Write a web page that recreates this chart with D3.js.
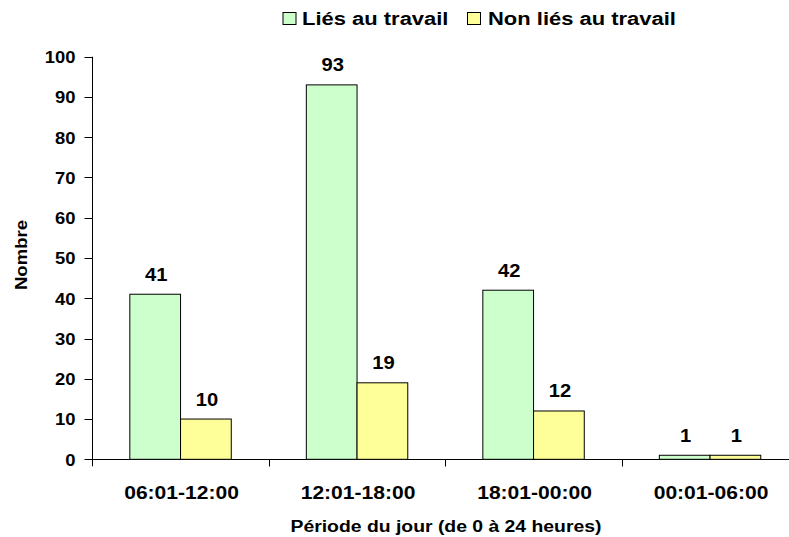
<!DOCTYPE html>
<html>
<head>
<meta charset="utf-8">
<script src="https://cdn.jsdelivr.net/npm/d3@7"></script>
<style>
  html, body { margin: 0; padding: 0; background: #fff; }
  svg { display: block; }
  text { font-family: "Liberation Sans", Arial, sans-serif; font-weight: bold; fill: #000; }
</style>
</head>
<body>
<script>
const categories = ["06:01-12:00", "12:01-18:00", "18:01-00:00", "00:01-06:00"];
const seriesNames = ["Liés au travail", "Non liés au travail"];
const workValues = [41, 93, 42, 1];
const nonWorkValues = [10, 19, 12, 1];
const yTicks = [0, 10, 20, 30, 40, 50, 60, 70, 80, 90, 100];
const xTitle = "Période du jour (de 0 à 24 heures)";
const yTitle = "Nombre";
const colors = ["#CCFFCC", "#FFFF99"];

const W = 789, H = 537;
const svg = d3.select("body").append("svg").attr("width", W).attr("height", H);

function stretch(sel, f) {
  sel.each(function () {
    const n = this.getComputedTextLength();
    d3.select(this).attr("textLength", n * f).attr("lengthAdjust", "spacingAndGlyphs");
  });
}

const x0 = d3.scaleBand().domain(categories).range([92.3, 798.3]).paddingInner(0).paddingOuter(0);
const x1 = d3.scaleBand().domain(seriesNames).range([0, x0.bandwidth()]).paddingInner(0).paddingOuter(0.74);
const y = d3.scaleLinear().domain([0, 100]).range([459.3, 56.7]);

const data = categories.map((c, i) => ({ cat: c, vals: [workValues[i], nonWorkValues[i]] }));

// y axis
const yAxis = svg.append("g").attr("transform", "translate(92.5,0)");
yAxis.append("line").attr("x1", 0).attr("x2", 0).attr("y1", y(100)).attr("y2", y(0) + 7)
  .attr("stroke", "#000").attr("stroke-width", 1);
yAxis.selectAll("line.tick").data(yTicks).join("line").attr("class", "tick")
  .attr("x1", -8).attr("x2", 0).attr("y1", d => Math.round(y(d)) + 0.5).attr("y2", d => Math.round(y(d)) + 0.5)
  .attr("stroke", "#000");
const yl = yAxis.selectAll("text").data(yTicks).join("text")
  .attr("x", -17).attr("y", d => y(d) + 6.3).attr("text-anchor", "end")
  .style("font-size", "16px").text(d => d);
stretch(yl, 1.15);

// x axis
const xAxis = svg.append("g");
xAxis.append("line").attr("x1", 92.3).attr("x2", 798.3).attr("y1", 459.5).attr("y2", 459.5)
  .attr("stroke", "#000");
const bounds = categories.map(c => x0(c)).concat([x0.range()[1]]).slice(1);
xAxis.selectAll("line.tick").data(bounds).join("line").attr("class", "tick")
  .attr("x1", d => Math.round(d) + 0.5).attr("x2", d => Math.round(d) + 0.5)
  .attr("y1", 459.5).attr("y2", 466.5).attr("stroke", "#000");
const xl = xAxis.selectAll("text").data(categories).join("text")
  .attr("x", d => x0(d) + x0.bandwidth() / 2 + 1).attr("y", 499)
  .attr("text-anchor", "middle").style("font-size", "18px").text(d => d);
stretch(xl, 1.17);

// bars
const groups = svg.selectAll("g.grp").data(data).join("g").attr("class", "grp")
  .attr("transform", d => `translate(${x0(d.cat)},0)`);
groups.selectAll("rect").data(d => d.vals.map((v, i) => ({ v, s: seriesNames[i], i })))
  .join("rect")
  .attr("x", d => x1(d.s)).attr("width", x1.bandwidth())
  .attr("y", d => y(d.v)).attr("height", d => y(0) - y(d.v))
  .attr("fill", d => colors[d.i]).attr("stroke", "#000").attr("stroke-width", 1);
const vl = groups.selectAll("text").data(d => d.vals.map((v, i) => ({ v, s: seriesNames[i], i })))
  .join("text")
  .attr("x", d => x1(d.s) + x1.bandwidth() / 2 + 1).attr("y", d => y(d.v) - 13.5)
  .attr("text-anchor", "middle").style("font-size", "18px").text(d => d.v);
stretch(vl, 1.12);

// axis titles
const xt = svg.append("text").attr("x", 446).attr("y", 531.5).attr("text-anchor", "middle")
  .style("font-size", "16px").text(xTitle);
stretch(xt, 1.21);
const yt = svg.append("text").attr("transform", "translate(26.5,255) rotate(-90)")
  .attr("text-anchor", "middle").style("font-size", "16px").text(yTitle);
stretch(yt, 1.16);

// legend
const legendX = [282.5, 467];
const leg = svg.selectAll("g.leg").data(seriesNames).join("g").attr("class", "leg")
  .attr("transform", (d, i) => `translate(${legendX[i]},0)`);
leg.append("rect").attr("x", 0.5).attr("y", 12.5).attr("width", 13).attr("height", 12)
  .attr("fill", (d, i) => colors[i]).attr("stroke", "#000");
const lt = leg.append("text").attr("x", (d, i) => i === 0 ? 19.5 : 21).attr("y", 25)
  .style("font-size", "18px").text(d => d);
stretch(lt, 1.22);
</script>
</body>
</html>
